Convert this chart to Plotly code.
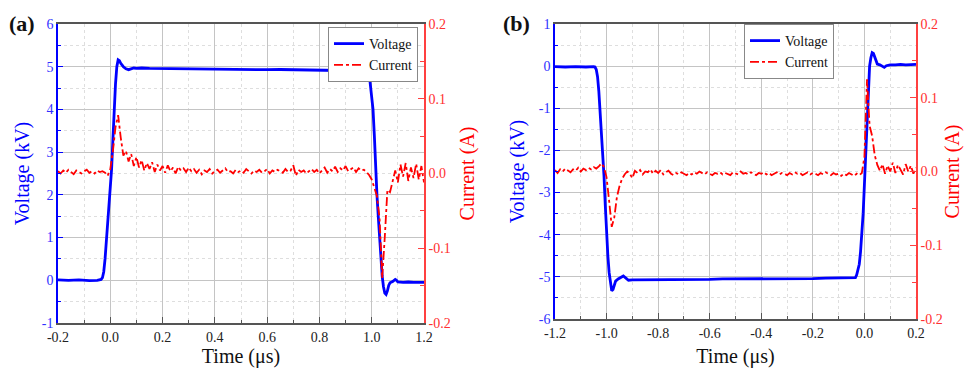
import numpy as np
import plotly.graph_objects as go

# ---------------- data ----------------
# Panel (a): positive pulse
t_volt_a = [-0.2, -0.16, -0.12, -0.08, -0.05, -0.035, -0.03, -0.025, -0.02, -0.015,
            -0.01, -0.005, 0.0, 0.005, 0.01, 0.015, 0.02, 0.025, 0.03, 0.035,
            0.04, 0.05, 0.06, 0.07, 0.08, 0.09, 0.1, 0.12, 0.15, 0.2,
            0.25, 0.3, 0.35, 0.4, 0.45, 0.5, 0.55, 0.6, 0.65, 0.7,
            0.75, 0.8, 0.85, 0.9, 0.95, 0.985, 0.99, 0.995, 1.0, 1.005,
            1.01, 1.015, 1.02, 1.025, 1.03, 1.035, 1.04, 1.045, 1.05, 1.055,
            1.06, 1.065, 1.07, 1.08, 1.09, 1.095, 1.1, 1.12, 1.14, 1.16,
            1.18, 1.2]
volt_a = [0.01, 0.0, 0.01, -0.01, 0.0, 0.02, 0.06, 0.2, 0.5, 0.95,
          1.4, 1.75, 2.1, 2.6, 3.3, 4.05, 4.6, 5.0, 5.16, 5.14,
          5.08, 5.0, 4.95, 4.93, 4.95, 4.97, 4.96, 4.97, 4.96, 4.955,
          4.96, 4.95, 4.945, 4.95, 4.94, 4.94, 4.935, 4.93, 4.935, 4.93,
          4.925, 4.92, 4.925, 4.92, 4.915, 4.9, 4.85, 4.6, 4.3, 4.0,
          3.4, 2.6, 2.0, 1.5, 1.0, 0.55, 0.1, -0.15, -0.3, -0.33,
          -0.25, -0.12, -0.06, -0.03, 0.02, 0.0, -0.04, -0.05, -0.04, -0.05,
          -0.05, -0.05]

cur_a_t0, cur_a_t1 = -0.2, 1.2     # current sampled every 0.01 us
cur_a = [0.003, 0.000, 0.004, 0.001, 0.005, 0.002, -0.001, 0.004, 0.002, 0.000,
         0.003, 0.005, 0.001, 0.003, 0.000, 0.004, 0.002, 0.003, 0.001, -0.003,
         0.006, 0.030, 0.062, 0.078, 0.048, 0.024, 0.030, 0.016, 0.026, 0.010, 0.022,
         0.008, 0.018, 0.004, 0.014, 0.006, 0.015, 0.002, 0.012, 0.004, 0.010,
         0.001, 0.011, 0.003, 0.008, 0.000, 0.009, 0.004, 0.007, 0.002, 0.008,
         0.003, 0.006, 0.001, 0.005, -0.001, 0.004, 0.002, 0.006, 0.000, 0.003,
         0.005, 0.001, 0.004, 0.007, 0.002, 0.003, 0.000, 0.005, 0.002, 0.004,
         0.001, 0.006, 0.003, 0.000, 0.004, 0.002, 0.005, 0.001, 0.003, 0.006,
         0.000, 0.004, 0.002, 0.005, 0.003, 0.001, 0.006, 0.002, 0.004, 0.011,
         -0.003, 0.005, 0.002, 0.004, 0.000, 0.003, 0.006,
         0.002, 0.005, 0.000, 0.004, 0.008, 0.001, 0.006, 0.003, 0.009, 0.002,
         0.007, 0.004, 0.010, 0.003, 0.006, 0.008, 0.002, 0.007, 0.004, 0.005,
         0.002, -0.002, -0.008, -0.018, -0.030, -0.060, -0.140, -0.085, -0.022, -0.025,
         -0.010, 0.004, -0.012, 0.012, -0.004, 0.014, -0.010, 0.008, -0.006, 0.013,
         -0.008, 0.010, -0.012]

# Panel (b): negative pulse
t_volt_b = [-1.2, -1.16, -1.12, -1.08, -1.05, -1.045, -1.04, -1.035, -1.03, -1.025,
            -1.02, -1.015, -1.01, -1.005, -1.0, -0.995, -0.99, -0.985, -0.98, -0.975,
            -0.97, -0.965, -0.955, -0.945, -0.935, -0.925, -0.915, -0.9, -0.85, -0.8,
            -0.75, -0.7, -0.65, -0.6, -0.55, -0.5, -0.45, -0.4, -0.35, -0.3,
            -0.25, -0.2, -0.15, -0.1, -0.05, -0.035, -0.03, -0.025, -0.02, -0.015,
            -0.01, -0.005, 0.0, 0.005, 0.01, 0.015, 0.02, 0.025, 0.03, 0.035,
            0.04, 0.045, 0.05, 0.06, 0.07, 0.077, 0.085, 0.1, 0.12, 0.14,
            0.16, 0.18, 0.2]
volt_b = [-0.01, -0.02, -0.01, -0.02, -0.01, -0.02, -0.08, -0.25, -0.6, -1.1,
          -1.5, -2.0, -2.6, -3.3, -4.0, -4.5, -4.9, -5.2, -5.33, -5.3,
          -5.2, -5.1, -5.05, -5.02, -4.98, -5.03, -5.08, -5.07, -5.07, -5.07,
          -5.06, -5.07, -5.06, -5.06, -5.05, -5.05, -5.05, -5.05, -5.04, -5.04,
          -5.04, -5.04, -5.03, -5.03, -5.03, -5.02, -4.95, -4.8, -4.7, -4.4,
          -4.0, -3.5, -2.8, -2.1, -1.4, -0.6, 0.0, 0.2, 0.32, 0.3,
          0.2, 0.1, 0.05, 0.03, 0.0, -0.03, 0.01, 0.03, 0.03, 0.04,
          0.03, 0.04, 0.04]

cur_b_t0, cur_b_t1 = -1.2, 0.2
cur_b = [0.002, -0.002, 0.003, 0.000, 0.004, 0.001, -0.001, 0.003, 0.001, 0.005,
         0.000, 0.004, 0.002, 0.005, 0.003, 0.006, 0.004,
         0.007, 0.011, 0.006, -0.008, -0.040, -0.075, -0.062, -0.035, -0.020, -0.010,
         -0.004, 0.000, -0.003, -0.009,
         0.001, -0.002, 0.002, -0.004, 0.000, -0.001, 0.003, -0.003, 0.001, -0.002,
         0.002, -0.004, -0.001, 0.001, -0.003, -0.005, -0.002, -0.004, -0.001, -0.003,
         -0.005, -0.002, -0.004, -0.001, -0.003, 0.000, -0.002, -0.004, -0.001, -0.003,
         -0.005, -0.002, -0.003, -0.001, -0.004, -0.002, -0.003, -0.005, -0.001, -0.002,
         -0.004, 0.000, -0.003, -0.002, -0.004, -0.001, -0.003, -0.005, -0.002, -0.003,
         -0.001, -0.004, -0.002, -0.005, -0.003, -0.001, -0.004, -0.002, -0.003, -0.005,
         -0.002, -0.004, -0.001, -0.003, -0.002, -0.005, -0.003, -0.001, -0.004, -0.002,
         -0.003, -0.005, -0.002, -0.004, -0.001, -0.003, -0.005, -0.002, -0.004, -0.003,
         -0.006, -0.003, -0.005, -0.002, -0.004, -0.006, -0.003, -0.005, -0.002,
         0.020, 0.125, 0.062, 0.048, 0.022, 0.009, 0.001, 0.010, -0.003, 0.008,
         0.000, 0.012, -0.002, 0.009, 0.002, -0.004, 0.010, 0.000, 0.008, -0.003, 0.005]

# tick labels
xticks_a = [-0.2, 0.0, 0.2, 0.4, 0.6, 0.8, 1.0, 1.2]
xlabels_a = ["-0.2", "0.0", "0.2", "0.4", "0.6", "0.8", "1.0", "1.2"]
xticks_b = [-1.2, -1.0, -0.8, -0.6, -0.4, -0.2, 0.0, 0.2]
xlabels_b = ["-1.2", "-1.0", "-0.8", "-0.6", "-0.4", "-0.2", "0.0", "0.2"]
vticks_a = [-1, 0, 1, 2, 3, 4, 5, 6]
vlabels_a = ["-1", "0", "1", "2", "3", "4", "5", "6"]
vticks_b = [-6, -5, -4, -3, -2, -1, 0, 1]
vlabels_b = ["-6", "-5", "-4", "-3", "-2", "-1", "0", "1"]
iticks = [-0.2, -0.1, 0.0, 0.1, 0.2]
ilabels = ["-0.2", "-0.1", "0.0", "0.1", "0.2"]

t_cur_a = np.round(np.linspace(cur_a_t0, cur_a_t1, len(cur_a)), 3)
t_cur_b = np.round(np.linspace(cur_b_t0, cur_b_t1, len(cur_b)), 3)

# ---------------- style ----------------
W, H = 964, 368
FONT = "Liberation Serif"
BLUE = "#0000ff"
RED = "#ff0000"
BLUE_TXT = "#3030ff"
RED_TXT = "#ff3030"
GRID = "#c4c4c4"
MINOR = "#dedede"

def px_x(p):
    return p / W

def px_y(p):
    return 1 - p / H

fig = go.Figure()
fig.add_trace(go.Scatter(x=t_volt_a, y=volt_a, xaxis="x", yaxis="y", mode="lines",
                         name="Voltage", legend="legend",
                         line=dict(color=BLUE, width=2.8)))
fig.add_trace(go.Scatter(x=t_cur_a, y=cur_a, xaxis="x", yaxis="y2", mode="lines",
                         name="Current", legend="legend",
                         line=dict(color=RED, width=1.8, dash="dashdot")))
fig.add_trace(go.Scatter(x=t_volt_b, y=volt_b, xaxis="x2", yaxis="y3", mode="lines",
                         name="Voltage", legend="legend2",
                         line=dict(color=BLUE, width=2.8)))
fig.add_trace(go.Scatter(x=t_cur_b, y=cur_b, xaxis="x2", yaxis="y4", mode="lines",
                         name="Current", legend="legend2",
                         line=dict(color=RED, width=1.8, dash="dashdot")))

def xaxis(domain, rng, tv, tt, anchor):
    return dict(domain=domain, range=rng, anchor=anchor, automargin=False,
                tickvals=tv, ticktext=tt, ticks="inside", ticklen=6,
                tickcolor="#555", showline=True, linecolor="#555", linewidth=1.5,
                mirror=True, showgrid=True, gridcolor=GRID, gridwidth=1,
                zeroline=False,
                minor=dict(dtick=0.1, tick0=0, ticks="inside", ticklen=3,
                           tickcolor="#555", showgrid=True, gridcolor=MINOR,
                           griddash="dot"),
                tickfont=dict(family=FONT, size=14, color="#222"),
                title=dict(text="Time (μs)", font=dict(family=FONT, size=20, color="#111"),
                           standoff=13))

def vaxis(domain, rng, tv, tt, anchor, standoff):
    return dict(domain=domain, range=rng, anchor=anchor, automargin=False,
                tickvals=tv, ticktext=tt, ticks="inside", ticklen=5,
                tickcolor=BLUE, showline=True, linecolor=BLUE, linewidth=1.5,
                showgrid=True, gridcolor=GRID, gridwidth=1, zeroline=False,
                minor=dict(dtick=0.5, tick0=0, ticks="inside", ticklen=3,
                           tickcolor=BLUE, showgrid=True, gridcolor=MINOR,
                           griddash="dot"),
                tickfont=dict(family=FONT, size=14, color=BLUE_TXT),
                title=dict(text="Voltage (kV)", font=dict(family=FONT, size=20, color=BLUE),
                           standoff=standoff))

def iaxis(overlay, anchor):
    return dict(overlaying=overlay, side="right", anchor=anchor, range=[-0.2, 0.2],
                automargin=False,
                tickvals=iticks, ticktext=ilabels, ticks="inside", ticklen=6,
                tickcolor="#ff4040", showline=True, linecolor="#ff4040", linewidth=1.5,
                showgrid=False, zeroline=False,
                minor=dict(dtick=0.05, tick0=0, ticks="inside", ticklen=4,
                           tickcolor="#ff4040", showgrid=False),
                tickfont=dict(family=FONT, size=14, color=RED_TXT),
                title=dict(text="Current (A)", font=dict(family=FONT, size=20, color=RED),
                           standoff=10))

dom_xa = [px_x(58), px_x(424)]
dom_ya = [px_y(323), px_y(24)]
dom_xb = [px_x(555), px_x(916)]
dom_yb = [px_y(319), px_y(24)]

legend_style = dict(font=dict(family=FONT, size=14, color="#111"),
                    bgcolor="white", bordercolor="#888", borderwidth=1,
                    xanchor="left", yanchor="top", tracegroupgap=0,
                    itemwidth=30)

fig.update_layout(
    width=W, height=H, margin=dict(l=0, r=0, t=0, b=0, autoexpand=False),
    paper_bgcolor="white", plot_bgcolor="white",
    font=dict(family=FONT),
    showlegend=True,
    xaxis=xaxis(dom_xa, [-0.2, 1.2], xticks_a, xlabels_a, "y"),
    yaxis=vaxis(dom_ya, [-1, 6], vticks_a, vlabels_a, "x", 7),
    yaxis2=iaxis("y", "x"),
    xaxis2=xaxis(dom_xb, [-1.2, 0.2], xticks_b, xlabels_b, "y3"),
    yaxis3=vaxis(dom_yb, [-6, 1], vticks_b, vlabels_b, "x2", 9),
    yaxis4=iaxis("y3", "x2"),
    legend=dict(x=px_x(328), y=px_y(27), **legend_style),
    legend2=dict(x=px_x(744), y=px_y(24), **legend_style),
    annotations=[
        dict(text="<b>(a)</b>", x=px_x(22), y=px_y(24), xref="paper", yref="paper",
             xanchor="center", yanchor="middle",
             showarrow=False, font=dict(family=FONT, size=22, color="#111")),
        dict(text="<b>(b)</b>", x=px_x(516), y=px_y(24), xref="paper", yref="paper",
             xanchor="center", yanchor="middle",
             showarrow=False, font=dict(family=FONT, size=22, color="#111")),
    ],
)

fig.write_html("out.html", config={"displayModeBar": False},
               post_script="document.body.style.margin='0';")
